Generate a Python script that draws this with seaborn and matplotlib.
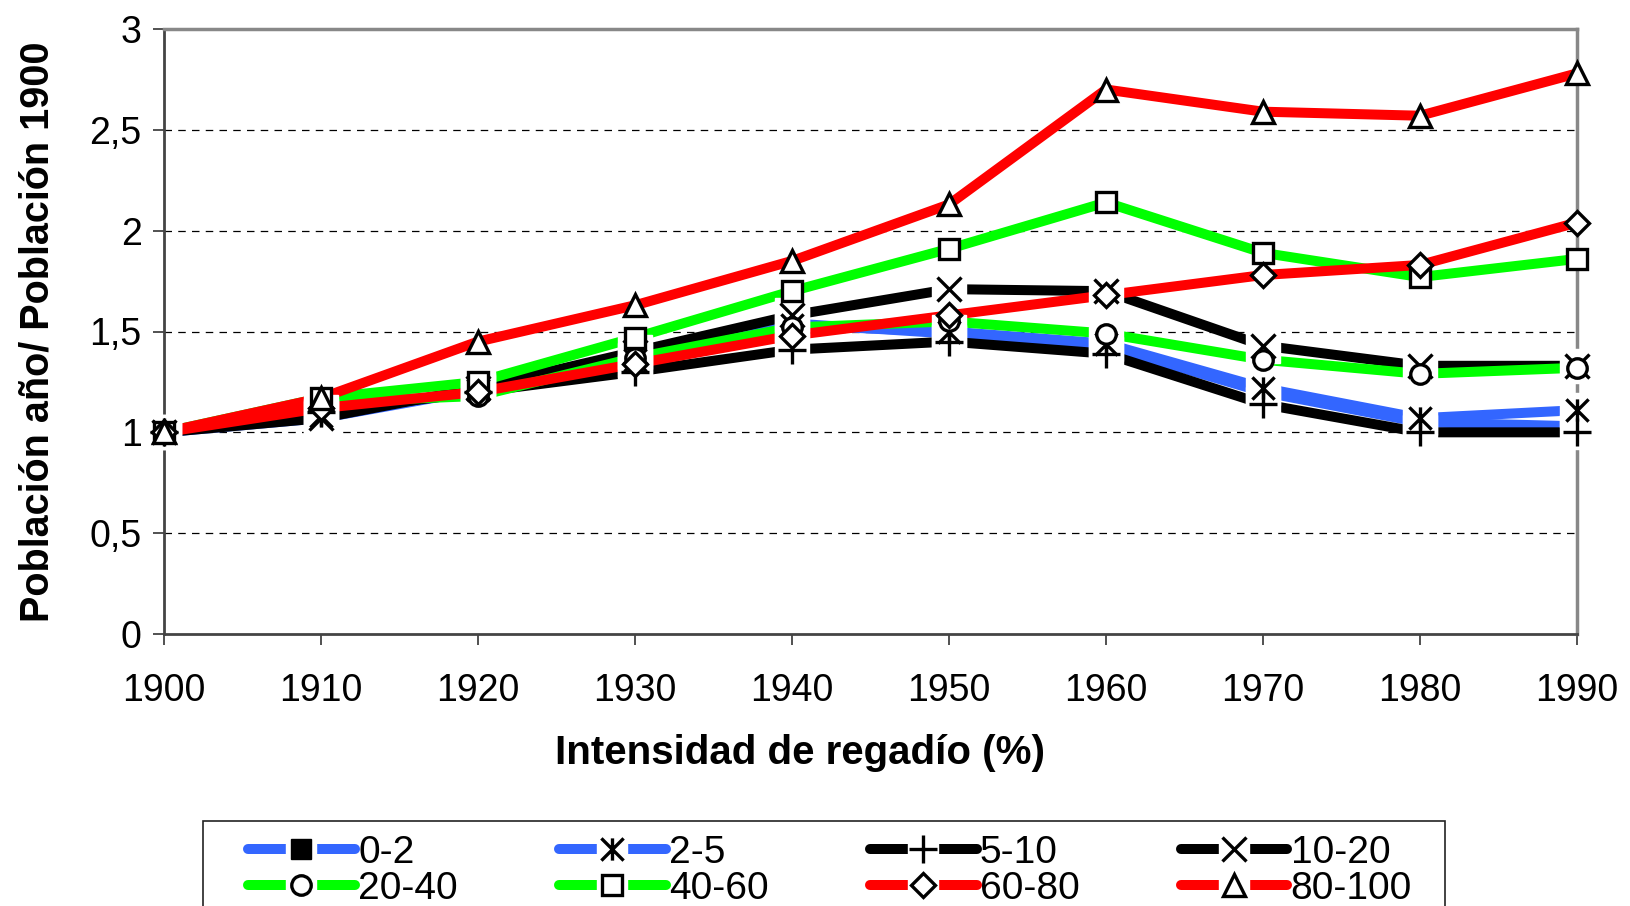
import numpy as np
import pandas as pd
import matplotlib
matplotlib.use("Agg")
import matplotlib.pyplot as plt
from matplotlib.path import Path
from matplotlib.lines import Line2D
from matplotlib.patches import Rectangle
from matplotlib.legend_handler import HandlerTuple
import seaborn as sns

years = [1900, 1910, 1920, 1930, 1940, 1950, 1960, 1970, 1980, 1990]
labels = ["0-2", "2-5", "5-10", "10-20", "20-40", "40-60", "60-80", "80-100"]
s_0_2 = [1.00, 1.07, 1.21, 1.37, 1.54, 1.49, 1.43, 1.20, 1.05, 1.03]
s_2_5 = [1.00, 1.08, 1.21, 1.36, 1.53, 1.50, 1.44, 1.22, 1.07, 1.11]
s_5_10 = [1.00, 1.10, 1.20, 1.30, 1.41, 1.45, 1.39, 1.14, 1.00, 1.00]
s_10_20 = [1.00, 1.07, 1.22, 1.40, 1.58, 1.71, 1.70, 1.43, 1.33, 1.33]
s_20_40 = [1.00, 1.15, 1.18, 1.37, 1.52, 1.55, 1.49, 1.36, 1.29, 1.32]
s_40_60 = [1.00, 1.17, 1.25, 1.47, 1.70, 1.91, 2.14, 1.89, 1.77, 1.86]
s_60_80 = [1.00, 1.12, 1.20, 1.34, 1.48, 1.58, 1.68, 1.78, 1.83, 2.04]
s_80_100 = [1.00, 1.17, 1.45, 1.63, 1.85, 2.13, 2.70, 2.59, 2.57, 2.78]
series = [s_0_2, s_2_5, s_5_10, s_10_20, s_20_40, s_40_60, s_60_80, s_80_100]
yticks = [0, 0.5, 1, 1.5, 2, 2.5, 3]
ytick_labels = ["0", "0,5", "1", "1,5", "2", "2,5", "3"]

blue, green, red, black = "#3366FF", "#00FF00", "#FF0000", "#000000"
colors = [blue, blue, black, black, green, green, red, red]
star = Path([(-1, -1), (1, 1), (-1, 1), (1, -1), (0, -1), (0, 1)],
            [Path.MOVETO, Path.LINETO, Path.MOVETO, Path.LINETO, Path.MOVETO, Path.LINETO])
markers = ["s", star, "+", "x", "o", "s", "D", "^"]
msizes = [12, 16, 20, 17, 14, 14, 12, 16]
backing = [False, True, True, True, False, False, False, False]

sns.set_style("white")
plt.rcParams["font.family"] = ["Liberation Sans", "DejaVu Sans"]
plt.rcParams["text.color"] = "black"
plt.rcParams["axes.labelcolor"] = "black"
plt.rcParams["xtick.color"] = "black"
plt.rcParams["ytick.color"] = "black"

fig = plt.figure(figsize=(16.30, 9.06), dpi=100)
ax = fig.add_axes([164 / 1630, 1 - 634 / 906, (1577 - 164) / 1630, (634 - 29) / 906])

for lab, vals, c in zip(labels, series, colors):
    sns.lineplot(x=years, y=vals, ax=ax, color=c, linewidth=7.2, legend=False,
                 solid_capstyle="butt", zorder=2)

for i, vals in enumerate(series):
    if i > 0 and backing[i]:
        ax.plot(years, vals, ls="none", marker="s", markersize=24,
                markerfacecolor="white", markeredgecolor="white", zorder=3, clip_on=False)
for i, (vals, m, ms) in enumerate(zip(series, markers, msizes)):
    if i == 0:
        continue
    ax.plot(years, vals, ls="none", marker=m, markersize=ms,
            markerfacecolor="white", markeredgecolor="black", markeredgewidth=2.4,
            zorder=4, clip_on=False)

ax.set_xlim(1900, 1990)
ax.set_ylim(0, 3)
ax.set_xticks(years)
ax.set_xticklabels([str(y) for y in years], fontsize=27)
ax.set_yticks(yticks)
ax.set_yticklabels(ytick_labels, fontsize=27)
for y in [0.5, 1, 1.5, 2, 2.5]:
    ax.axhline(y, color="black", lw=0.9, ls=(0, (6, 5)), zorder=1)

ax.tick_params(axis="both", direction="out", length=8, width=1.2, color="#333333",
               left=True, bottom=True)
ax.tick_params(axis="y", pad=8)
ax.tick_params(axis="x", pad=20)
for side in ["left", "bottom"]:
    ax.spines[side].set_color("#444444")
    ax.spines[side].set_linewidth(2)
for side in ["top", "right"]:
    ax.spines[side].set_color("#888888")
    ax.spines[side].set_linewidth(2.5)

ax.set_xlabel("Intensidad de regadío (%)", fontsize=29, fontweight="bold")
ax.xaxis.set_label_coords(0.45, -0.165)
ax.set_ylabel("Población año/ Población 1900", fontsize=28.5, fontweight="bold", labelpad=24)

handles = []
for lab, c, m, ms in zip(labels, colors, markers, msizes):
    ln = Line2D([], [], color=c, lw=7.2, solid_capstyle="round")
    bk = Line2D([], [], ls="none", marker="s", markersize=21,
                markerfacecolor="white", markeredgecolor="white")
    if lab == "0-2":
        mk = Line2D([], [], ls="none", marker="s", markersize=14,
                    markerfacecolor="black", markeredgecolor="black")
    else:
        mk = Line2D([], [], ls="none", marker=m, markersize=ms,
                    markerfacecolor="white", markeredgecolor="black", markeredgewidth=2.4)
    handles.append((ln, bk, mk))

# row-major order for the 4x2 grid
order = [0, 4, 1, 5, 2, 6, 3, 7]
leg = fig.legend([handles[i] for i in order], [labels[i] for i in order],
                 handler_map={tuple: HandlerTuple(ndivide=1)},
                 loc="upper left", bbox_to_anchor=(248 / 1630, 1 - 835 / 906),
                 ncol=4, fontsize=28, frameon=False,
                 handlelength=2.75, handletextpad=0.08, columnspacing=2.6, labelspacing=0.0,
                 borderpad=0, borderaxespad=0)
fig.add_artist(Rectangle((203 / 1630, -0.05), (1445 - 203) / 1630, (1 - 821 / 906) + 0.05,
                         transform=fig.transFigure, fill=False, ec="#222222", lw=1.2))

fig.savefig("out.png", dpi=100)
